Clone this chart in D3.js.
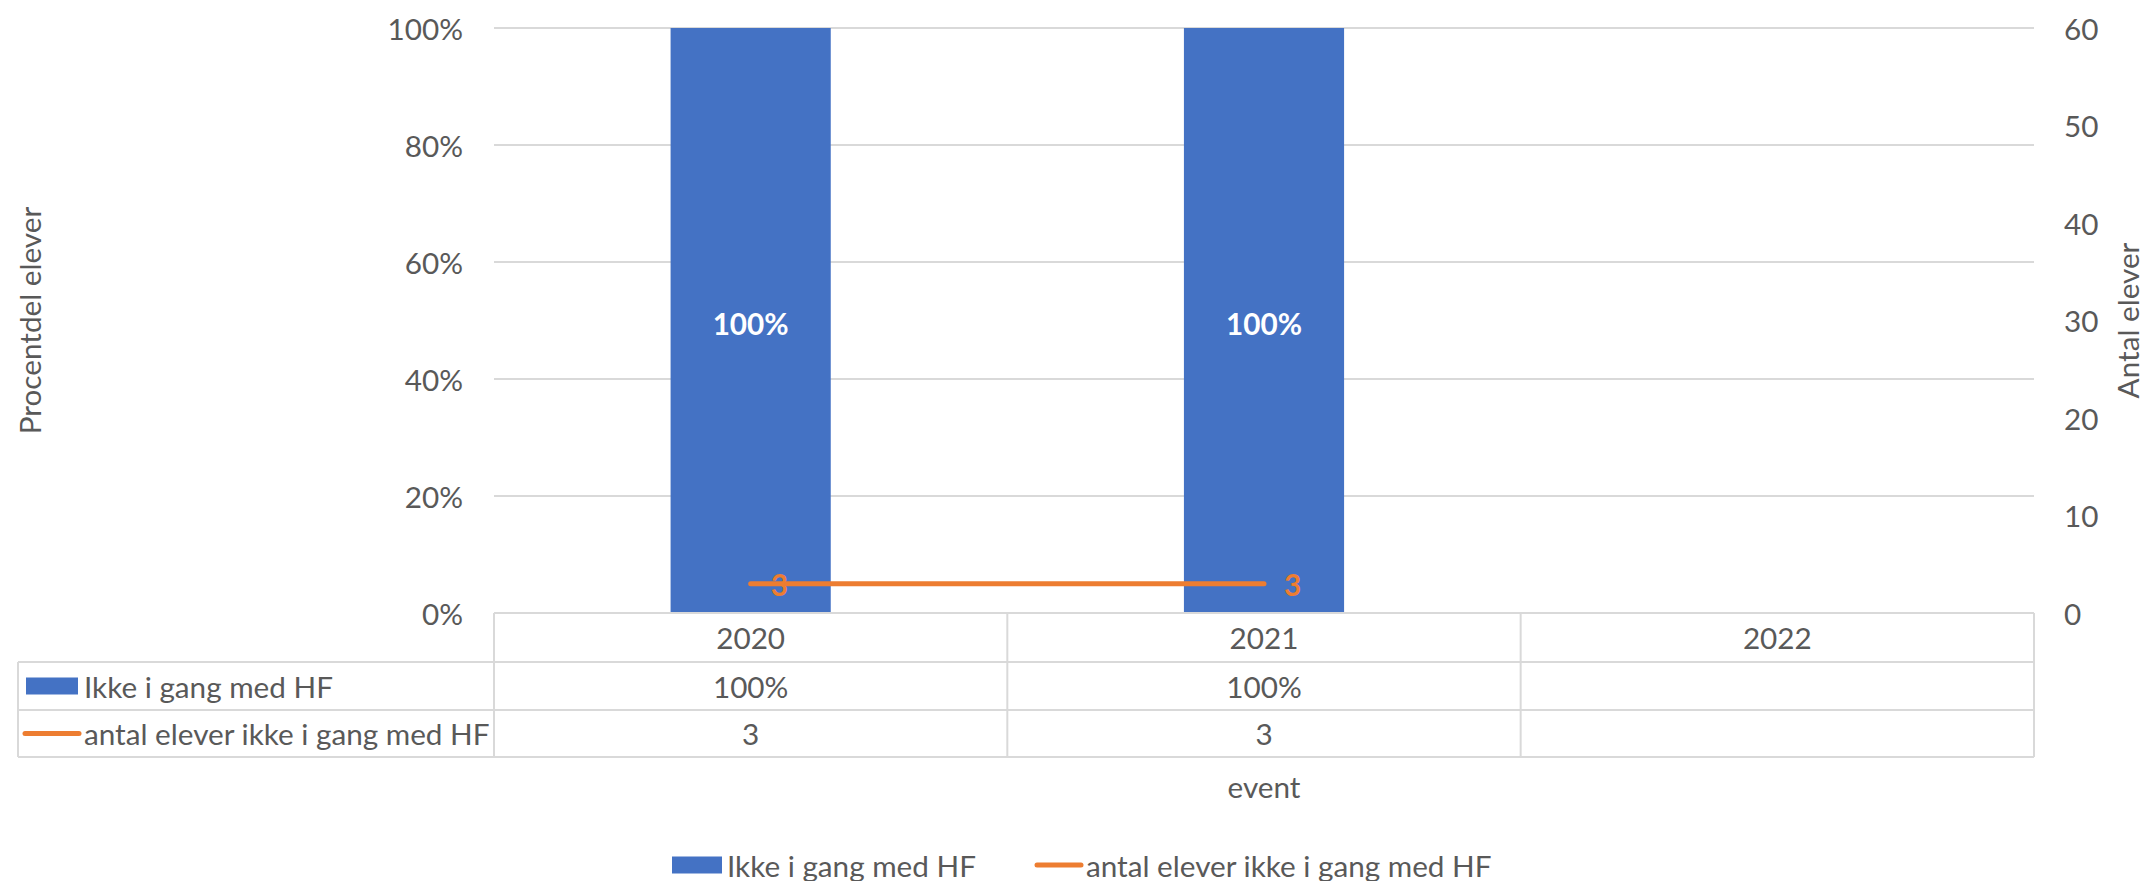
<!DOCTYPE html>
<html>
<head>
<meta charset="utf-8">
<script src="https://cdn.jsdelivr.net/npm/d3@7"></script>
<style>
html,body{margin:0;padding:0;background:#fff;}
svg{display:block;}
text{font-family:Lato,"Open Sans",sans-serif;fill:#595959;}
</style>
</head>
<body>
<svg id="chart" width="2145" height="881"></svg>
<script>
// ---- data ----
const categories = ["2020", "2021", "2022"];
const pctValues = [1.0, 1.0, null];          // Ikke i gang med HF
const countValues = [3, 3, null];            // antal elever ikke i gang med HF
const pctTicks = [0, 0.2, 0.4, 0.6, 0.8, 1.0];
const countTicks = [0, 10, 20, 30, 40, 50, 60];
const seriesNames = ["Ikke i gang med HF", "antal elever ikke i gang med HF"];
const leftTitle = "Procentdel elever";
const rightTitle = "Antal elever";
const xTitle = "event";

// ---- styling ----
const blue = "#4472c4", orange = "#ed7d31", grid = "#d9d9d9", txt = "#595959";
const svg = d3.select("#chart");

// font size fitted so legend text matches reference width
const cnv = document.createElement("canvas").getContext("2d");
cnv.font = "100px Lato";
const fs = Math.round(406 / cnv.measureText(seriesNames[1]).width * 100 * 10) / 10;

const L = 494, R = 2034, T = 28, B = 613;
const x = d3.scaleBand().domain(categories).range([L, R]).padding(0);
const yL = d3.scaleLinear().domain([0, 1]).range([B, T]);
const yR = d3.scaleLinear().domain([0, 60]).range([B, T]);
const bw = x.bandwidth() * 0.312;

// gridlines
svg.append("g").selectAll("line").data(pctTicks).join("line")
  .attr("x1", L).attr("x2", R)
  .attr("y1", d => yL(d)).attr("y2", d => yL(d))
  .attr("stroke", grid).attr("stroke-width", 2);

// left axis labels
svg.append("g").selectAll("text").data(pctTicks).join("text")
  .attr("x", 463).attr("y", d => yL(d)).attr("text-anchor", "end")
  .attr("dominant-baseline", "central").style("font-size", fs + "px")
  .text(d => d3.format(".0%")(d));

// right axis labels
svg.append("g").selectAll("text").data(countTicks).join("text")
  .attr("x", 2064).attr("y", d => yR(d)).attr("text-anchor", "start")
  .attr("dominant-baseline", "central").style("font-size", fs + "px")
  .text(d => d);

// bars
const barData = categories.map((c, i) => ({c, v: pctValues[i]})).filter(d => d.v != null);
svg.append("g").selectAll("rect").data(barData).join("rect")
  .attr("x", d => x(d.c) + x.bandwidth() / 2 - bw / 2)
  .attr("width", bw)
  .attr("y", d => yL(d.v)).attr("height", d => yL(0) - yL(d.v))
  .attr("fill", blue);
svg.append("g").selectAll("text").data(barData).join("text")
  .attr("x", d => x(d.c) + x.bandwidth() / 2)
  .attr("y", d => (yL(d.v) + yL(0)) / 2 + 3)
  .attr("text-anchor", "middle").attr("dominant-baseline", "central")
  .style("font-size", fs + "px").style("font-weight", "bold").style("fill", "#fff")
  .text(d => d3.format(".0%")(d.v));

// line
const lineData = categories.map((c, i) => ({c, v: countValues[i]})).filter(d => d.v != null);
const line = d3.line().x(d => x(d.c) + x.bandwidth() / 2).y(d => yR(d.v));
svg.append("path").datum(lineData).attr("d", line)
  .attr("fill", "none").attr("stroke", orange).attr("stroke-width", 5)
  .attr("stroke-linecap", "round");
svg.append("g").selectAll("text").data(lineData).join("text")
  .attr("x", d => x(d.c) + x.bandwidth() / 2 + 20)
  .attr("y", d => yR(d.v) + 1)
  .attr("text-anchor", "start").attr("dominant-baseline", "central")
  .style("font-size", fs + "px").style("font-weight", "bold").style("fill", orange)
  .text(d => d.v);

// data table
const rows = [B, 662, 710, 757];
const tg = svg.append("g").attr("stroke", grid).attr("stroke-width", 2);
tg.append("line").attr("x1", L).attr("x2", R).attr("y1", rows[0]).attr("y2", rows[0]);
[1, 2, 3].forEach(i => tg.append("line").attr("x1", 18).attr("x2", R).attr("y1", rows[i]).attr("y2", rows[i]));
tg.append("line").attr("x1", 18).attr("x2", 18).attr("y1", rows[1]).attr("y2", rows[3]);
categories.forEach(c => tg.append("line").attr("x1", x(c)).attr("x2", x(c)).attr("y1", rows[0]).attr("y2", rows[3]));
tg.append("line").attr("x1", R).attr("x2", R).attr("y1", rows[0]).attr("y2", rows[3]);

const rowMid = i => (rows[i] + rows[i + 1]) / 2;
svg.append("g").selectAll("text").data(categories).join("text")
  .attr("x", d => x(d) + x.bandwidth() / 2).attr("y", rowMid(0))
  .attr("text-anchor", "middle").attr("dominant-baseline", "central")
  .style("font-size", fs + "px").text(d => d);
svg.append("g").selectAll("text").data(categories.map((c, i) => ({c, v: pctValues[i]})).filter(d => d.v != null)).join("text")
  .attr("x", d => x(d.c) + x.bandwidth() / 2).attr("y", rowMid(1))
  .attr("text-anchor", "middle").attr("dominant-baseline", "central")
  .style("font-size", fs + "px").text(d => d3.format(".0%")(d.v));
svg.append("g").selectAll("text").data(categories.map((c, i) => ({c, v: countValues[i]})).filter(d => d.v != null)).join("text")
  .attr("x", d => x(d.c) + x.bandwidth() / 2).attr("y", rowMid(2))
  .attr("text-anchor", "middle").attr("dominant-baseline", "central")
  .style("font-size", fs + "px").text(d => d.v);

// table legend keys
svg.append("rect").attr("x", 26).attr("y", rowMid(1) - 8.5).attr("width", 52).attr("height", 17).attr("fill", blue);
svg.append("text").attr("x", 84).attr("y", rowMid(1)).attr("dominant-baseline", "central")
  .style("font-size", fs + "px").text(seriesNames[0]);
svg.append("line").attr("x1", 25).attr("x2", 79).attr("y1", rowMid(2)).attr("y2", rowMid(2))
  .attr("stroke", orange).attr("stroke-width", 5).attr("stroke-linecap", "round");
svg.append("text").attr("x", 84).attr("y", rowMid(2)).attr("dominant-baseline", "central")
  .style("font-size", fs + "px").text(seriesNames[1]);

// x title
svg.append("text").attr("x", (L + R) / 2).attr("y", 786).attr("text-anchor", "middle")
  .attr("dominant-baseline", "central").style("font-size", fs + "px").text(xTitle);

// axis titles
svg.append("text").attr("transform", `translate(29,${(T + B) / 2}) rotate(-90)`)
  .attr("text-anchor", "middle").attr("dominant-baseline", "central")
  .style("font-size", fs + "px").text(leftTitle);
svg.append("text").attr("transform", `translate(2127,${(T + B) / 2}) rotate(-90)`)
  .attr("text-anchor", "middle").attr("dominant-baseline", "central")
  .style("font-size", fs + "px").text(rightTitle);

// bottom legend
const ly = 865;
svg.append("rect").attr("x", 672).attr("y", ly - 8.5).attr("width", 50).attr("height", 17).attr("fill", blue);
svg.append("text").attr("x", 727).attr("y", ly).attr("dominant-baseline", "central")
  .style("font-size", fs + "px").text(seriesNames[0]);
svg.append("line").attr("x1", 1037).attr("x2", 1081).attr("y1", ly).attr("y2", ly)
  .attr("stroke", orange).attr("stroke-width", 5).attr("stroke-linecap", "round");
svg.append("text").attr("x", 1086).attr("y", ly).attr("dominant-baseline", "central")
  .style("font-size", fs + "px").text(seriesNames[1]);
</script>
</body>
</html>
